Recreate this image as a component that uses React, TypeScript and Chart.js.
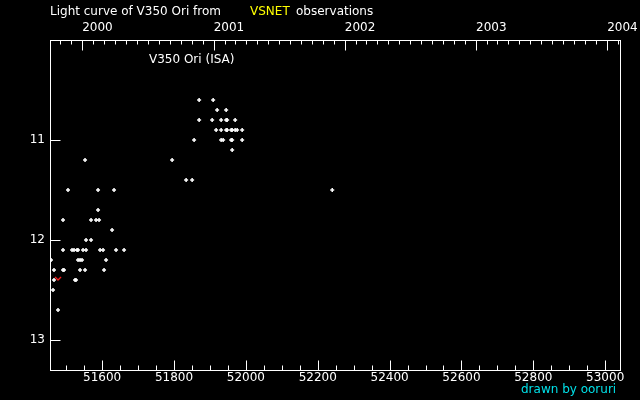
import React, { useEffect, useRef } from "react";
import { Chart, registerables } from "chart.js";

Chart.register(...registerables);

// Observations (JD - 2400000, visual magnitude)
const obsJD = [
  51457.8, 51463.4, 51466.1, 51466.1, 51477.3, 51491.2, 51491.2, 51491.2, 51494.0, 51505.1,
  51516.3, 51521.8, 51524.6, 51527.4, 51530.2, 51533.0, 51533.0, 51538.6, 51538.6, 51544.1,
  51546.9, 51552.5, 51552.5, 51555.3, 51555.3, 51569.2, 51569.2, 51583.1, 51588.7, 51588.7,
  51591.5, 51594.3, 51602.6, 51605.4, 51611.0, 51627.7, 51633.2, 51638.8, 51661.1,
  51794.8, 51833.8, 51850.5, 51856.0, 51870.0, 51870.0, 51906.2, 51909.0, 51917.3, 51920.1,
  51931.2, 51931.2, 51931.2, 51936.8, 51945.2, 51945.2, 51945.2, 51948.0, 51948.0, 51959.1,
  51959.1, 51961.9, 51961.9, 51961.9, 51970.2, 51970.2, 51975.8, 51989.7, 51989.7, 52240.4,
];
const obsMag = [
  12.2, 12.5, 12.3, 12.4, 12.7, 11.8, 12.1, 12.3, 12.3, 11.5,
  12.1, 12.1, 12.4, 12.4, 12.1, 12.1, 12.2, 12.2, 12.3, 12.2,
  12.1, 11.2, 12.3, 12.0, 12.1, 11.8, 12.0, 11.8, 11.5, 11.7,
  11.8, 12.1, 12.1, 12.3, 12.2, 11.9, 11.5, 12.1, 12.1,
  11.2, 11.4, 11.4, 11.0, 10.6, 10.8, 10.8, 10.6, 10.9, 10.7,
  10.8, 10.9, 11.0, 11.0, 10.7, 10.8, 10.9, 10.8, 10.9, 10.9,
  11.0, 10.9, 11.0, 11.1, 10.8, 10.9, 10.9, 10.9, 11.0, 11.5,
];
// Fainter-than observations
const limitJD = [51477.3];
const limitMag = [12.4];

// Axes
const jdMin = 51455;
const jdMax = 53044;
const magMin = 10.0;
const magMax = 13.3;
const jdTicks = [51600, 51800, 52000, 52200, 52400, 52600, 52800, 53000];
const jdMinorStep = 50;
const magTicks = [11, 12, 13];
const yearLabels = ["2000", "2001", "2002", "2003", "2004"];
const yearJD = [51544.5, 51910.5, 52275.5, 52640.5, 53005.5];

const FONT = '12px "DejaVu Sans", sans-serif';

function monthStarts(): number[] {
  const out: number[] = [];
  for (let y = 1999; y <= 2004; y++) {
    for (let m = 0; m < 12; m++) {
      const jd = Date.UTC(y, m, 1) / 86400000 + 40587.5;
      if (jd > jdMin && jd < jdMax) out.push(jd);
    }
  }
  return out;
}

function makeLimitMarker(): HTMLCanvasElement {
  const c = document.createElement("canvas");
  c.width = 8;
  c.height = 8;
  const g = c.getContext("2d")!;
  g.strokeStyle = "#ff2020";
  g.lineWidth = 1.3;
  g.beginPath();
  g.moveTo(1, 1);
  g.lineTo(4, 4);
  g.lineTo(7, 1);
  g.stroke();
  return c;
}

const framePlugin = {
  id: "framePlugin",
  afterDraw(chart: any) {
    const ctx = chart.ctx as CanvasRenderingContext2D;
    const { left, right, top, bottom } = chart.chartArea;
    const xs = chart.scales.x;
    const ys = chart.scales.y;
    ctx.save();
    ctx.strokeStyle = "#ffffff";
    ctx.lineWidth = 1;
    const L = Math.round(left) + 0.5;
    const R = Math.round(right) - 0.5;
    const T = Math.round(top) + 0.5;
    const B = Math.round(bottom) + 0.5;
    ctx.strokeRect(L, T, R - L, B - T);

    const px = (v: number) => Math.round(xs.getPixelForValue(v)) + 0.5;
    const py = (v: number) => Math.round(ys.getPixelForValue(v)) + 0.5;
    ctx.beginPath();
    // bottom ticks
    for (let v = Math.ceil(jdMin / jdMinorStep) * jdMinorStep; v <= jdMax; v += jdMinorStep) {
      const x = px(v);
      const len = jdTicks.includes(v) ? 10 : 5;
      ctx.moveTo(x, B);
      ctx.lineTo(x, B - len);
    }
    // top month ticks
    for (const v of monthStarts()) {
      const x = px(v);
      ctx.moveTo(x, T);
      ctx.lineTo(x, T + 4);
    }
    for (const v of yearJD) {
      const x = px(v);
      ctx.moveTo(x, T);
      ctx.lineTo(x, T + 10);
    }
    // y ticks
    for (const v of magTicks) {
      const y = py(v);
      ctx.moveTo(L, y);
      ctx.lineTo(L + 10, y);
    }
    ctx.stroke();

    ctx.font = FONT;
    ctx.fillStyle = "#ffffff";
    ctx.textBaseline = "middle";
    ctx.textAlign = "center";
    for (const v of jdTicks) ctx.fillText(String(v), xs.getPixelForValue(v), 378);
    ctx.textAlign = "left";
    yearLabels.forEach((lab, i) => ctx.fillText(lab, xs.getPixelForValue(yearJD[i]), 28));
    ctx.textAlign = "right";
    for (const v of magTicks) ctx.fillText(String(v), 45, ys.getPixelForValue(v));

    ctx.textAlign = "left";
    ctx.fillText("Light curve of V350 Ori from", 50, 12);
    ctx.fillStyle = "#ffff00";
    ctx.fillText("VSNET", 250, 12);
    ctx.fillStyle = "#ffffff";
    ctx.fillText("observations", 296, 12);
    ctx.fillText("V350 Ori (ISA)", 149, 60);
    ctx.fillStyle = "#00e0e8";
    ctx.fillText("drawn by ooruri", 521, 390);
    ctx.restore();
  },
};

export default function App() {
  const ref = useRef<HTMLCanvasElement | null>(null);
  useEffect(() => {
    document.body.style.margin = "0";
    document.body.style.background = "#000";
    const canvas = ref.current!;
    const chart = new Chart(canvas, {
      type: "scatter",
      data: {
        datasets: [
          {
            label: "V350 Ori",
            data: obsJD.map((x, i) => ({ x, y: obsMag[i] })),
            pointStyle: "cross",
            pointRadius: 2,
            borderColor: "#ffffff",
            backgroundColor: "#ffffff",
            borderWidth: 1.5,
          },
          {
            label: "fainter than",
            data: limitJD.map((x, i) => ({ x, y: limitMag[i] })),
            pointStyle: makeLimitMarker(),
            pointRadius: 4,
          },
        ],
      },
      options: {
        animation: false,
        responsive: false,
        maintainAspectRatio: false,
        layout: { padding: { left: 50, top: 40, right: 19, bottom: 30 } },
        plugins: { legend: { display: false }, tooltip: { enabled: false }, title: { display: false } },
        scales: {
          x: { type: "linear", min: jdMin, max: jdMax, display: false },
          y: { type: "linear", min: magMin, max: magMax, reverse: true, display: false },
        },
      },
      plugins: [framePlugin],
    });
    return () => chart.destroy();
  }, []);
  return (
    <div style={{ width: 640, height: 400, background: "#000" }}>
      <canvas ref={ref} width={640} height={400} style={{ display: "block" }} />
    </div>
  );
}
